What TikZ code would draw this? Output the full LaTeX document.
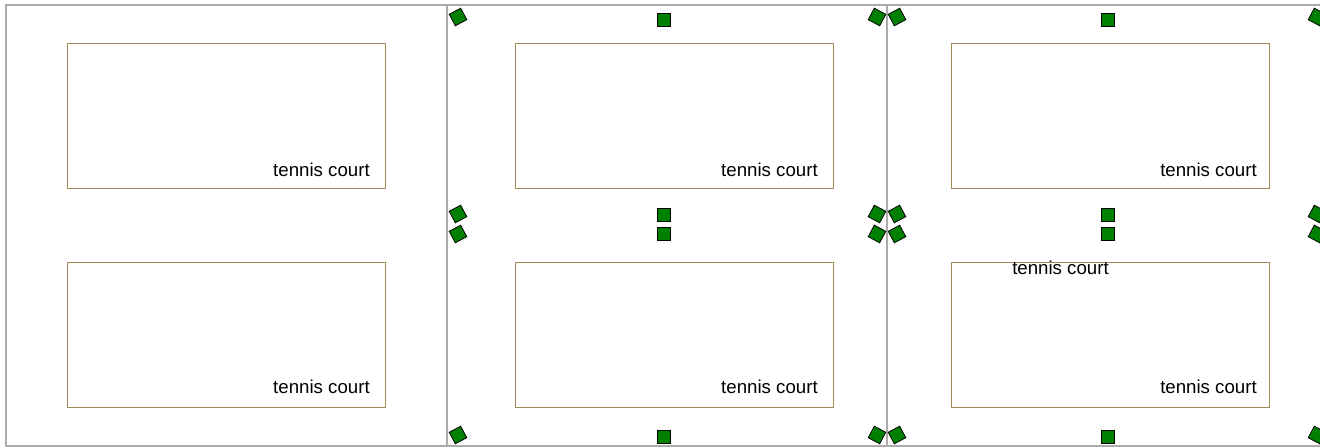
\documentclass[tikz,border=0pt]{standalone}
\usepackage{fontspec}
\setmainfont{Liberation Sans}
\definecolor{framegray}{HTML}{ABABAB}
\definecolor{courtline}{HTML}{A08A55}
\definecolor{pin}{HTML}{008000}
\begin{document}
\begin{tikzpicture}[x=0.75pt,y=-0.75pt,
  frame/.style={draw=framegray,line width=0.9pt},
  court/.style={draw=courtline,line width=1pt,minimum width=318*0.75pt,minimum height=145*0.75pt,inner sep=0pt,anchor=north west},
  lbl/.style={font=\fontsize{14pt}{16pt}\selectfont,inner sep=0pt,anchor=base east,text=black},
  sq/.style={draw=black,fill=pin,line width=0.6pt,minimum size=13*0.75pt,inner sep=0pt},
  sqr/.style={sq,rotate=28},
  sql/.style={sq,rotate=-28}]
\useasboundingbox (0,0) rectangle (1320,448);
\clip (0,0) rectangle (1320,448);
% frames
\draw[frame] (6,5) rectangle (1327,446);
\coordinate (d1t) at (447,5); \coordinate (d1b) at (447,446);
\coordinate (d2t) at (887,5); \coordinate (d2b) at (887,446);
\draw[frame] (d1t) -- (d1b);
\draw[frame] (d2t) -- (d2b);
% courts
\node[court] (c11) at (67,43) {};
\node[court] (c12) at (67,262) {};
\node[court] (c21) at (515,43) {};
\node[court] (c22) at (515,262) {};
\node[court] (c31) at (951,43) {};
\node[court] (c32) at (951,262) {};
% labels
\node[lbl] (l11) at (370,177) {tennis court};
\node[lbl] (l12) at (370,394) {tennis court};
\node[lbl] (l21) at (818,177) {tennis court};
\node[lbl] (l22) at (818,394) {tennis court};
\node[lbl] (l31) at (1257,177) {tennis court};
\node[lbl] (l32) at (1257,394) {tennis court};
\node[lbl] (lx) at (1109,275) {tennis court};
% green markers panel 2
\node[sqr] (a1) at (458,17) {};
\node[sq]  (a2) at (663.5,19.5) {};
\node[sql] (a3) at (877,17) {};
\node[sqr] (a4) at (458,214) {};
\node[sqr] (a5) at (458,234) {};
\node[sq]  (a6) at (663.5,215) {};
\node[sq]  (a7) at (663.5,233.5) {};
\node[sql] (a8) at (877,214) {};
\node[sql] (a9) at (877,234) {};
\node[sqr] (a10) at (458,435) {};
\node[sq]  (a11) at (663.5,437) {};
\node[sql] (a12) at (877,435) {};
% green markers panel 3
\node[sqr] (b1) at (897,17) {};
\node[sq]  (b2) at (1107.5,19.5) {};
\node[sql] (b3) at (1317,17) {};
\node[sqr] (b4) at (897,214) {};
\node[sqr] (b5) at (897,234) {};
\node[sq]  (b6) at (1107.5,215) {};
\node[sq]  (b7) at (1107.5,233.5) {};
\node[sql] (b8) at (1317,214) {};
\node[sql] (b9) at (1317,234) {};
\node[sqr] (b10) at (897,435) {};
\node[sq]  (b11) at (1107.5,437) {};
\node[sql] (b12) at (1317,435) {};
\end{tikzpicture}
\end{document}
